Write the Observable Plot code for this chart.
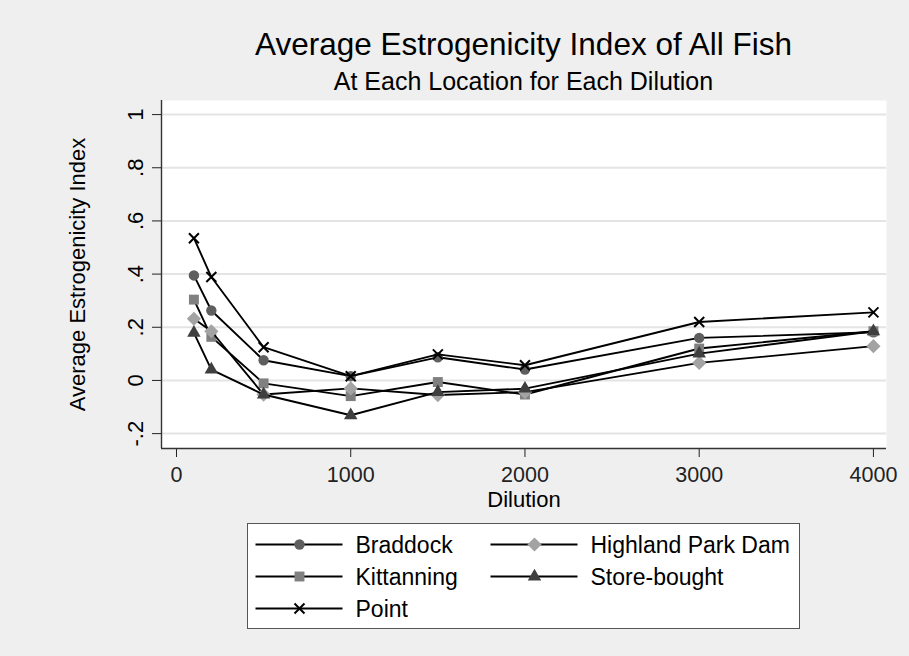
<!DOCTYPE html>
<html>
<head>
<meta charset="utf-8">
<script src="https://cdn.jsdelivr.net/npm/d3@7"></script>
<script src="https://cdn.jsdelivr.net/npm/@observablehq/plot@0.6"></script>
<style>
  body { margin: 0; background: #efefef; }
  #chart { position: relative; width: 909px; height: 656px; background: #efefef;
           font-family: "Liberation Sans", Arial, sans-serif; color: #000; overflow: hidden; }
  .title { position: absolute; left: 161px; width: 725px; text-align: center; line-height: 1; white-space: nowrap; }
  #plot { position: absolute; left: 0; top: 96px; }
  #legend { position: absolute; left: 246.5px; top: 522.5px; }
</style>
</head>
<body>
<div id="chart">
  <div class="title" style="top:29px;font-size:31.5px;">Average Estrogenicity Index of All Fish</div>
  <div class="title" style="top:69px;font-size:25px;">At Each Location for Each Dilution</div>
  <div id="plot"></div>
  <div id="legend"></div>
</div>
<script>
// dilution levels on the x axis
const dilutions = [100, 200, 500, 1000, 1500, 2000, 3000, 4000];

// average estrogenicity index per location
const braddock    = [0.395, 0.263, 0.076, 0.016, 0.087, 0.041, 0.160, 0.181];
const kittanning  = [0.304, 0.164, -0.011, -0.059, -0.006, -0.053, 0.120, 0.185];
const highland    = [0.232, 0.185, -0.053, -0.030, -0.055, -0.044, 0.066, 0.129];
const storeBought = [0.179, 0.041, -0.053, -0.131, -0.044, -0.031, 0.101, 0.185];
const point       = [0.535, 0.389, 0.125, 0.016, 0.098, 0.057, 0.220, 0.256];

// tick values and labels
const xTicks = [0, 1000, 2000, 3000, 4000];
const yTicks = [-0.2, 0, 0.2, 0.4, 0.6, 0.8, 1];
const yTickLabels = ["-.2", "0", ".2", ".4", ".6", ".8", "1"];

// series in drawing order, with their marker styles
const series = [
  {name: "Braddock",          values: braddock,    symbol: "circle",   fill: "#5f5f5f", r: 5.2},
  {name: "Kittanning",        values: kittanning,  symbol: "square",   fill: "#808080", r: 5.6},
  {name: "Highland Park Dam", values: highland,    symbol: "diamond2", fill: "#a3a3a3", r: 6.4},
  {name: "Store-bought",      values: storeBought, symbol: "triangle", fill: "#3f3f3f", r: 5.0},
  {name: "Point",             values: point,       symbol: "times",    fill: null,      r: 4.6}
];

const xDomain = [-86, 4075];
const yDomain = [-0.256, 1.053];

// one line + markers per series, so later series draw on top
const seriesMarks = series.flatMap(s => {
  const rows = dilutions.map((d, i) => ({dilution: d, value: s.values[i]}));
  const dotOpts = s.fill
    ? {fill: s.fill, stroke: "none"}
    : {fill: "none", stroke: "#000", strokeWidth: 2};
  return [
    Plot.line(rows, {x: "dilution", y: "value", stroke: "#000", strokeWidth: 1.9}),
    Plot.dot(rows, {x: "dilution", y: "value", symbol: () => s.symbol, r: s.r, ...dotOpts})
  ];
});

const chart = Plot.plot({
  width: 909,
  height: 420,
  marginLeft: 161,
  marginRight: 23,
  marginTop: 4,
  marginBottom: 68,
  style: {fontFamily: '"Liberation Sans", Arial, sans-serif', fontSize: "21.5px", background: "transparent", color: "#222"},
  x: {domain: xDomain, ticks: xTicks, tickSize: 9, tickPadding: 9, tickFormat: d => String(d), label: null},
  y: {domain: yDomain, ticks: yTicks, tickSize: 9, tickFormat: () => "", label: null},
  symbol: {type: "identity"},
  marks: [
    Plot.frame({fill: "white", stroke: "none"}),
    Plot.ruleY(yTicks, {stroke: "#e4e4e4", strokeWidth: 2}),
    Plot.ruleY([yDomain[0]], {stroke: "#333", strokeWidth: 1.4}),
    Plot.ruleX([xDomain[0]], {stroke: "#333", strokeWidth: 1.4}),
    // rotated y tick labels
    Plot.text(yTicks, {
      y: d => d, text: (d, i) => yTickLabels[i], frameAnchor: "left", dx: -26,
      rotate: -90, textAnchor: "middle", lineAnchor: "middle", fill: "#000", fontSize: 22
    }),
    // axis titles
    Plot.text(["Average Estrogenicity Index"], {
      frameAnchor: "left", dx: -84, rotate: -90, textAnchor: "middle", lineAnchor: "middle",
      fill: "#000", fontSize: 22
    }),
    Plot.text(["Dilution"], {frameAnchor: "bottom", dy: 51, lineAnchor: "middle", fill: "#000", fontSize: 22}),
    ...seriesMarks
  ]
});
document.querySelector("#plot").append(chart);

// legend box below the plot
const legendOrder = ["Braddock", "Highland Park Dam", "Kittanning", "Store-bought", "Point"];
const lw = 553, lh = 106;
const legend = d3.select("#legend").append("svg").attr("width", lw).attr("height", lh);
legend.append("rect").attr("x", 0.5).attr("y", 0.5).attr("width", lw - 1).attr("height", lh - 1)
  .attr("fill", "white").attr("stroke", "#555");

legendOrder.forEach((name, i) => {
  const s = series.find(d => d.name === name);
  const col = i % 2, row = Math.floor(i / 2);
  const x0 = 8.5 + col * 235, cy = 21.5 + row * 32;
  const g = legend.append("g").attr("transform", `translate(${x0},${cy})`);
  g.append("line").attr("x1", 0).attr("x2", 87).attr("y1", 0).attr("y2", 0)
    .attr("stroke", "#000").attr("stroke-width", 1.9);
  const symType = {circle: d3.symbolCircle, square: d3.symbolSquare, diamond2: d3.symbolDiamond2,
                   triangle: d3.symbolTriangle, times: d3.symbolTimes}[s.symbol];
  const path = g.append("path")
    .attr("transform", "translate(44,0)")
    .attr("d", d3.symbol(symType, Math.PI * s.r * s.r)());
  if (s.fill) path.attr("fill", s.fill);
  else path.attr("fill", "none").attr("stroke", "#000").attr("stroke-width", 2);
  g.append("text").attr("x", 100).attr("y", 8).text(name)
    .attr("font-family", '"Liberation Sans", Arial, sans-serif').attr("font-size", 23).attr("fill", "#000");
});
</script>
</body>
</html>
